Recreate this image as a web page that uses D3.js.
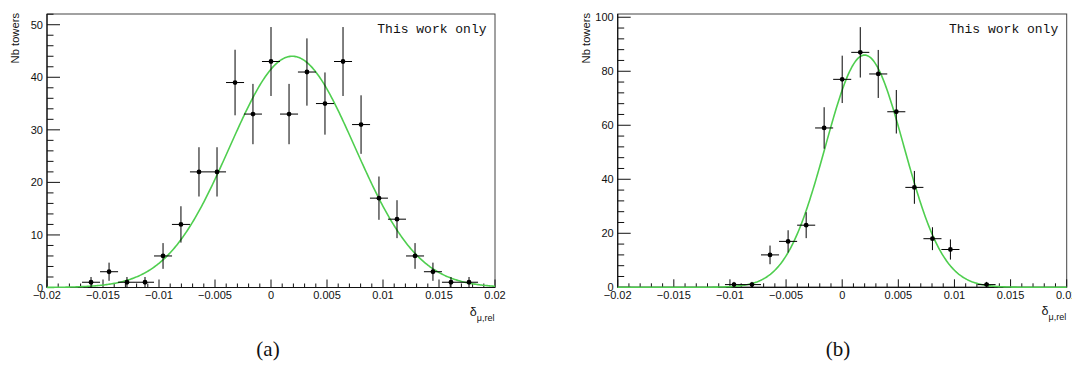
<!DOCTYPE html>
<html>
<head>
<meta charset="utf-8">
<script src="https://cdn.jsdelivr.net/npm/d3@7"></script>
<style>
  html, body { margin: 0; padding: 0; background: #fff; }
  svg { display: block; }
  text { font-family: "Liberation Sans", Arial, Helvetica, sans-serif; fill: #111; }
</style>
</head>
<body>
<svg id="chart" width="1072" height="365"></svg>
<script>
// ---------- data ----------
const binCenters = [-0.01607, -0.01446, -0.01286, -0.01125, -0.00964, -0.00804, -0.00643, -0.00482, -0.00321, -0.00161,
                    0.00000, 0.00161, 0.00321, 0.00482, 0.00643, 0.00804, 0.00964, 0.01125, 0.01286, 0.01446, 0.01607, 0.01768];
const binWidth = 0.00161;

const countsA = [1, 3, 1, 1, 6, 12, 22, 22, 39, 33, 43, 33, 41, 35, 43, 31, 17, 13, 6, 3, 1, 1];
const errorsA = [1, 1.73, 1, 1, 2.45, 3.46, 4.69, 4.69, 6.24, 5.74, 6.56, 5.74, 6.40, 5.92, 6.56, 5.57, 4.12, 3.61, 2.45, 1.73, 1, 1];

const countsB = [0, 0, 0, 0, 1, 1, 12, 17, 23, 59, 77, 87, 79, 65, 37, 18, 14, 0, 1, 0, 0, 0];
const errorsB = [0, 0, 0, 0, 1, 1, 3.46, 4.12, 4.80, 7.68, 8.77, 9.33, 8.89, 8.06, 6.08, 4.24, 3.74, 0, 1, 0, 0, 0];

// Gaussian fit parameters [amplitude, mean, sigma]
const fitA = [44.0, 0.0019, 0.0056];
const fitB = [86.0, 0.0020, 0.0035];

const xDomain = [-0.02, 0.02];
const xMajorTicks = [-0.02, -0.015, -0.01, -0.005, 0, 0.005, 0.01, 0.015, 0.02];
const xTickLabels = ["\u22120.02", "\u22120.015", "\u22120.01", "\u22120.005", "0", "0.005", "0.01", "0.015", "0.02"];
const yMaxA = 52.04, yMaxB = 101.2;
const yMajorA = [0, 10, 20, 30, 40, 50];
const yMajorB = [0, 20, 40, 60, 80, 100];
const yMinorStepA = 2, yMinorStepB = 4;

const yTitle = "Nb towers";
const watermark = "This work only";
const captions = ["(a)", "(b)"];

// ---------- drawing ----------
const svg = d3.select("#chart");

function panel(cfg) {
  const {x0, x1, y0, y1, counts, errors, fit, yMax, yMajor, yMinorStep, caption, capX} = cfg;
  const g = svg.append("g");
  const x = d3.scaleLinear().domain(xDomain).range([x0, x1]);
  const y = d3.scaleLinear().domain([0, yMax]).range([y1, y0]);

  // frame
  g.append("rect").attr("x", x0).attr("y", y0).attr("width", x1 - x0).attr("height", y1 - y0)
    .attr("fill", "none").attr("stroke", "#444").attr("stroke-width", 1);

  // x ticks (inward, upward)
  const xMinor = d3.range(-20, 21).map(i => i * 0.001);
  g.selectAll(".xminor").data(xMinor).enter().append("line")
    .attr("x1", d => x(d)).attr("x2", d => x(d))
    .attr("y1", y1).attr("y2", d => (Math.abs(Math.round(d * 1000)) % 5 === 0) ? y1 - 8 : y1 - 4)
    .attr("stroke", "#111").attr("stroke-width", 1);
  g.selectAll(".xlab").data(xMajorTicks).enter().append("text")
    .attr("x", d => x(d)).attr("y", y1 + 11.8)
    .attr("text-anchor", "middle").attr("font-size", "11px")
    .text((d, i) => xTickLabels[i]);

  // y ticks (inward, to the right)
  const yMinor = d3.range(0, yMax + 1e-9, yMinorStep);
  g.selectAll(".yminor").data(yMinor).enter().append("line")
    .attr("x1", x0).attr("x2", d => yMajor.includes(d) ? x0 + 13 : x0 + 6.5)
    .attr("y1", d => y(d)).attr("y2", d => y(d))
    .attr("stroke", "#111").attr("stroke-width", 1);
  g.selectAll(".ylab").data(yMajor).enter().append("text")
    .attr("x", x0 - 4).attr("y", d => y(d) + 4)
    .attr("text-anchor", "end").attr("font-size", "11px")
    .text(d => d);

  // axes lines
  g.append("line").attr("x1", x0).attr("x2", x1).attr("y1", y1).attr("y2", y1).attr("stroke", "#111").attr("stroke-width", 1.2);
  g.append("line").attr("x1", x0).attr("x2", x0).attr("y1", y0).attr("y2", y1).attr("stroke", "#111").attr("stroke-width", 1.2);

  // y title
  g.append("text")
    .attr("transform", `translate(${x0 - 28},${y0 - 1}) rotate(-90)`)
    .attr("text-anchor", "end").attr("font-size", "11.2px")
    .text(yTitle);

  // x title  δ_{μ,rel}
  const xt = g.append("text").attr("x", x1 - 0.5).attr("y", y1 + 28).attr("text-anchor", "end");
  xt.append("tspan").attr("font-size", "12.5px").text("\u03b4");
  xt.append("tspan").attr("font-size", "9px").attr("dy", 5).text("\u03bc,rel");

  // watermark
  g.append("text").attr("x", x1 - 8.5).attr("y", y0 + 19)
    .attr("text-anchor", "end")
    .style("font-family", "'Liberation Mono', 'DejaVu Sans Mono', monospace")
    .attr("font-size", "13px").attr("fill", "#333")
    .text(watermark);

  // fit curve
  const gauss = t => fit[0] * Math.exp(-0.5 * Math.pow((t - fit[1]) / fit[2], 2));
  const xs = d3.range(0, 401).map(i => xDomain[0] + i * (xDomain[1] - xDomain[0]) / 400);
  g.append("path").datum(xs)
    .attr("d", d3.line().x(d => x(d)).y(d => y(gauss(d))))
    .attr("fill", "none").attr("stroke", "#4fce4f").attr("stroke-width", 1.6);

  // data points
  const pts = binCenters.map((c, i) => ({c, v: counts[i], e: errors[i]})).filter(d => d.v > 0);
  const pg = g.append("g");
  pg.selectAll(".eh").data(pts).enter().append("line")
    .attr("x1", d => x(d.c - binWidth / 2)).attr("x2", d => x(d.c + binWidth / 2))
    .attr("y1", d => y(d.v)).attr("y2", d => y(d.v))
    .attr("stroke", "#000").attr("stroke-width", 1);
  pg.selectAll(".ev").data(pts).enter().append("line")
    .attr("x1", d => x(d.c)).attr("x2", d => x(d.c))
    .attr("y1", d => y(Math.max(0, d.v - d.e))).attr("y2", d => y(d.v + d.e))
    .attr("stroke", "#000").attr("stroke-width", 1);
  pg.selectAll("circle").data(pts).enter().append("circle")
    .attr("cx", d => x(d.c)).attr("cy", d => y(d.v)).attr("r", 2.4).attr("fill", "#000");

  // caption
  svg.append("text").attr("x", capX).attr("y", 356)
    .attr("text-anchor", "middle")
    .style("font-family", "'Liberation Serif', 'DejaVu Serif', serif")
    .attr("font-size", "21px")
    .text(caption);
}

panel({x0: 47, x1: 495, y0: 14, y1: 287.5, counts: countsA, errors: errorsA, fit: fitA,
       yMax: yMaxA, yMajor: yMajorA, yMinorStep: yMinorStepA, caption: captions[0], capX: 268});
panel({x0: 617.7, x1: 1066.7, y0: 14, y1: 287.3, counts: countsB, errors: errorsB, fit: fitB,
       yMax: yMaxB, yMajor: yMajorB, yMinorStep: yMinorStepB, caption: captions[1], capX: 838});
</script>
</body>
</html>
